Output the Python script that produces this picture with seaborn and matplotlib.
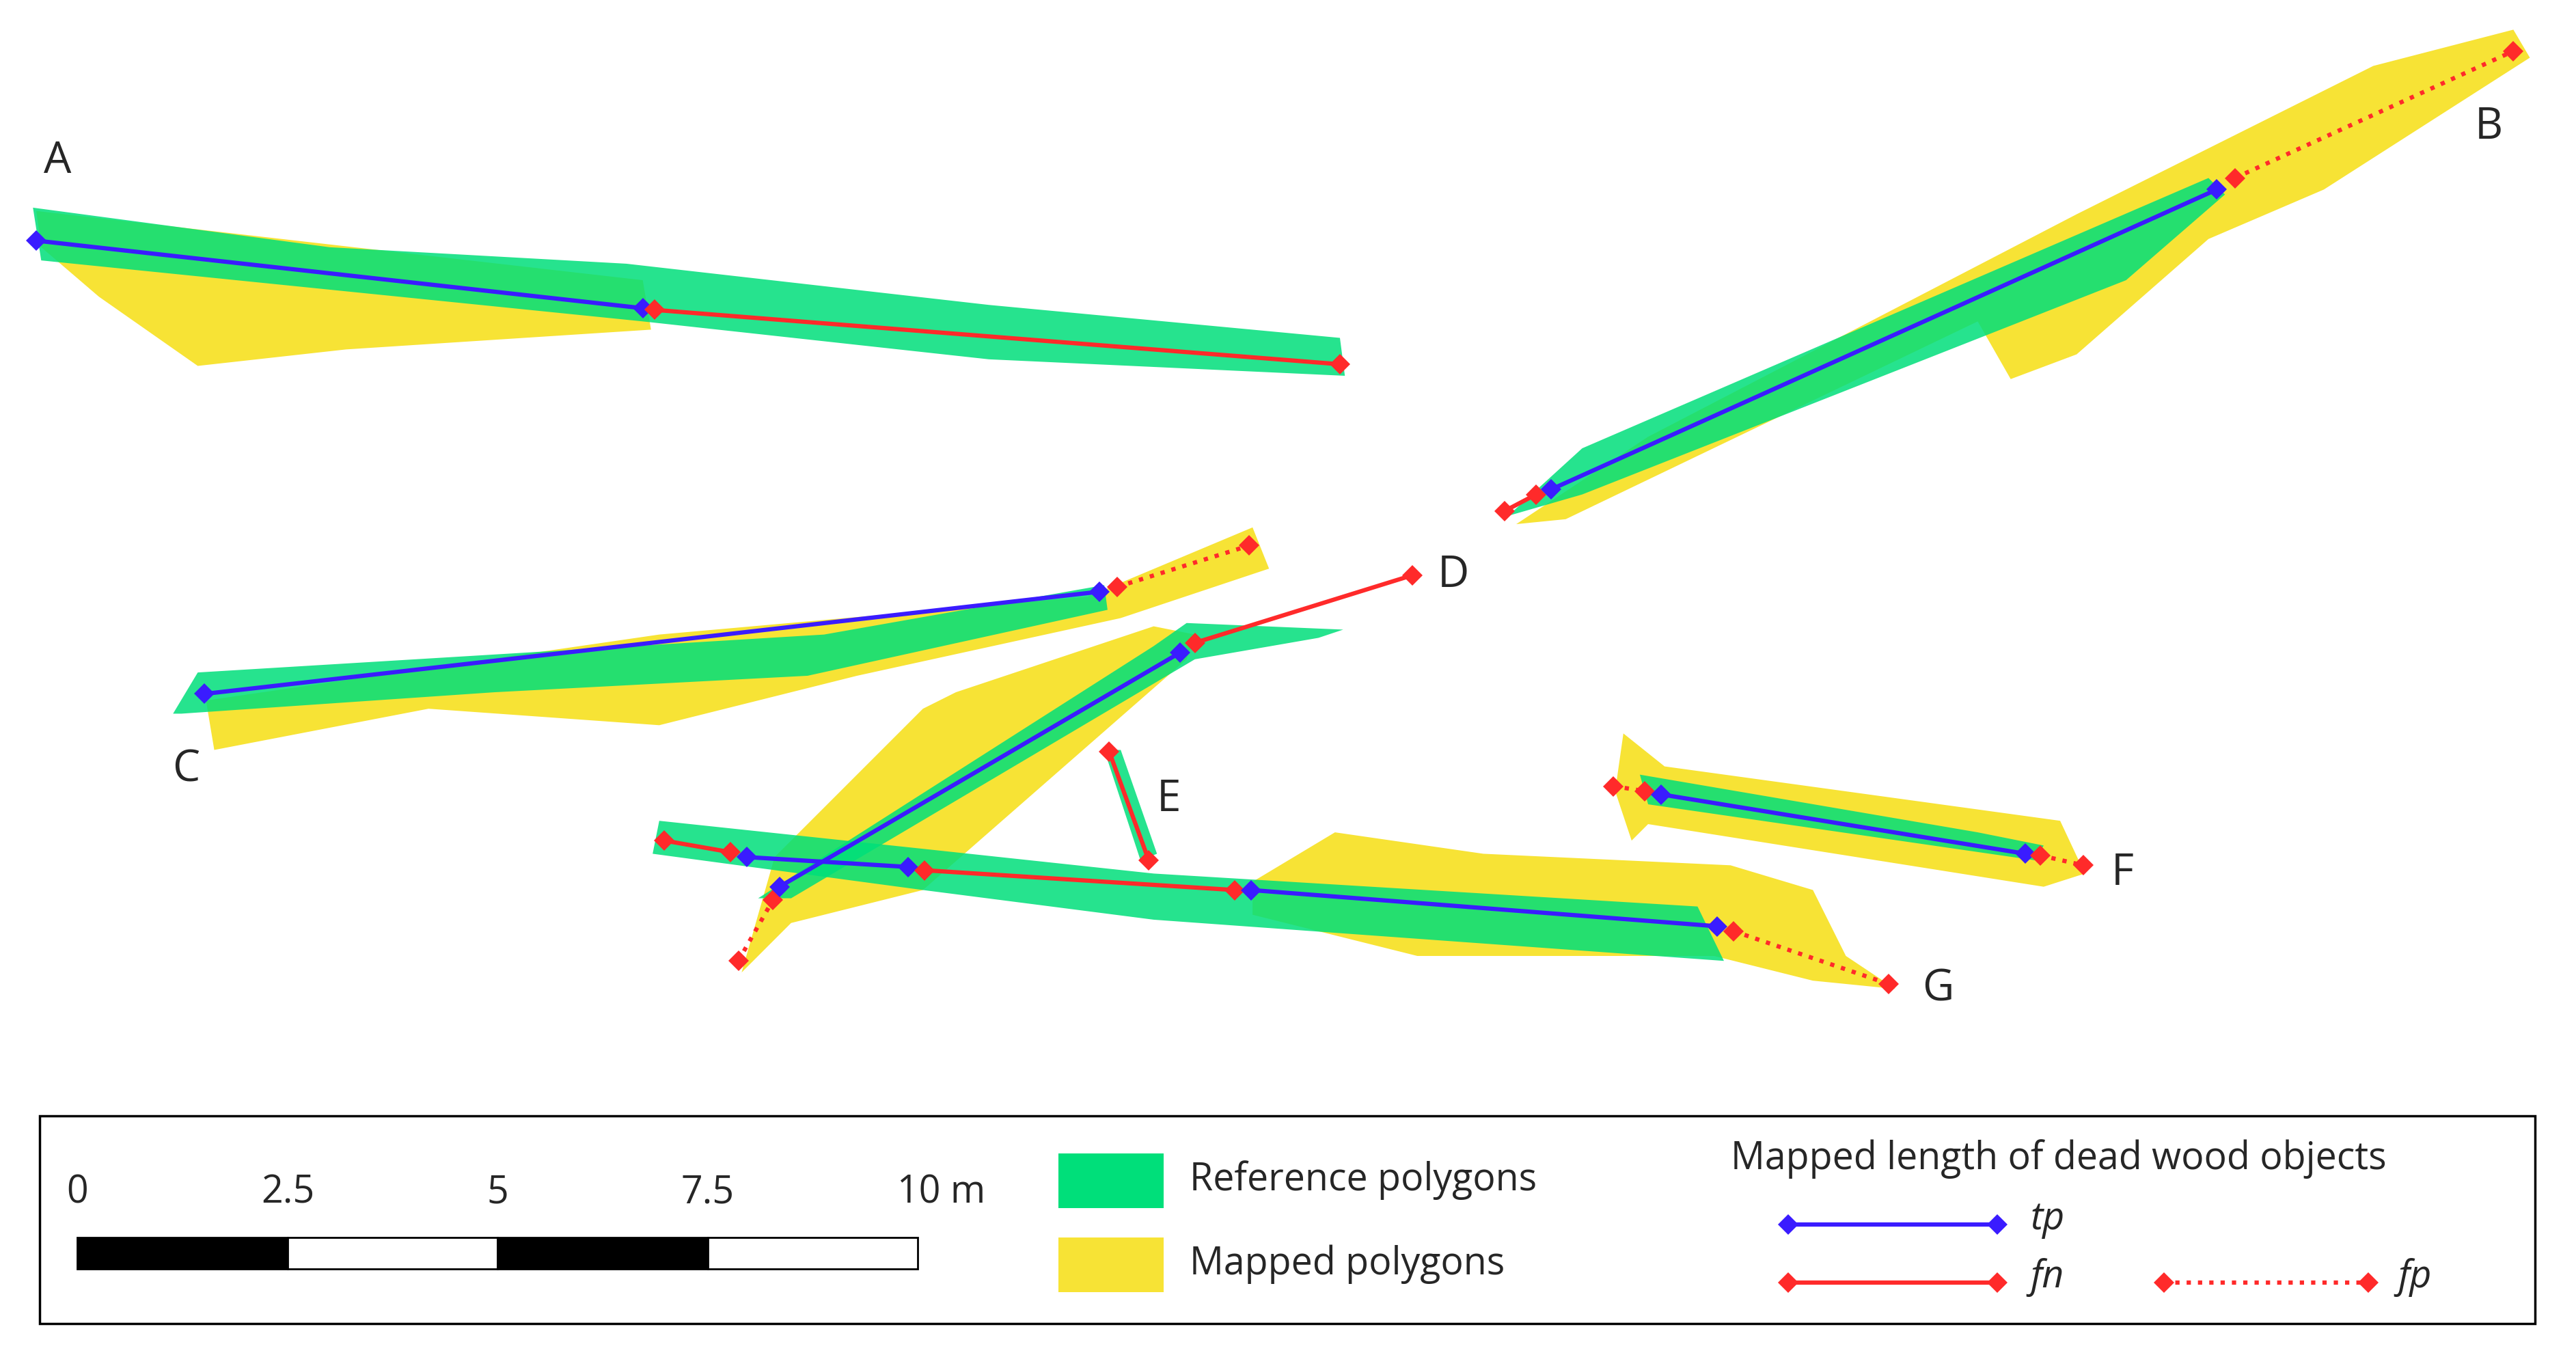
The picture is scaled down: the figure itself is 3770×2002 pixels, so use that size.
import matplotlib
matplotlib.use("Agg")
import matplotlib.pyplot as plt
import seaborn as sns
import pandas as pd
from matplotlib.patches import Polygon, Rectangle

sns.set_theme(style="white")
plt.rcParams['font.family'] = ['Open Sans', 'DejaVu Sans']

# ---- data (map coordinates, display units) ----
seg_names = ["A1","A2","B1","B2","B3","C1","C2","D0","D1","D2","E1",
             "F1","F2","F3","G1","G2","G3","G4","G5"]
seg_kind = ["tp","fn","fn","tp","fp","tp","fp","fp","tp","fn","fn",
            "fp","tp","fp","fn","tp","fn","tp","fp"]
seg_x0 = [22,397,913,941,1356,124,678,448,473,725,673,979,1008,1238,403,453,561,759,1052]
seg_y0 = [146,188,310,297,108,421,356,583,538,390,456,477,482,519,510,520,528,540,565]
seg_x1 = [390,813,932,1345,1525,667,758,469,716,857,697,998,1229,1264,443,551,749,1042,1146]
seg_y1 = [187,221,300,115,31,359,331,546,396,349,522,480,518,525,517,526,540,562,597]

green_polys = [
    [(20,126),(200,150),(380,160),(600,185),(813,205),(816,228),(600,218),(390,195),(25,158)],
    [(915,313),(960,272),(1340,108),(1350,118),(1290,170),(960,300)],
    [(105,433),(120,408),(500,385),(670,355),(672,370),(490,410),(300,420),(110,433)],
    [(460,545),(700,392),(720,378),(815,382),(800,387),(725,400),(480,545)],
    [(670,455),(680,455),(702,518),(692,522)],
    [(995,470),(1200,505),(1240,513),(1235,522),(1000,488)],
    [(396,518),(400,498),(560,515),(700,530),(1030,550),(1046,583),(700,558),(560,540)],
]
yellow_polys = [
    [(22,128),(390,170),(395,200),(210,212),(120,222),(60,180),(25,150)],
    [(920,318),(1000,265),(1260,130),(1440,40),(1525,18),(1535,35),(1410,115),(1340,145),
     (1260,215),(1220,230),(1200,195),(950,315)],
    [(125,425),(400,385),(660,362),(760,320),(770,345),(680,375),(520,410),(400,440),(260,430),(130,455)],
    [(450,590),(470,520),(560,430),(580,420),(700,380),(725,385),(720,400),(560,540),(480,560)],
    [(985,445),(1010,465),(1250,498),(1265,530),(1240,538),(1000,500),(990,510),(980,480)],
    [(760,535),(810,505),(900,518),(1050,525),(1100,540),(1120,580),(1150,600),(1100,595),
     (1040,580),(860,580),(760,555)],
]
obj_labels = ["A","B","C","D","E","F","G"]
obj_lx = [35,1510,113,882,709,1288,1176]
obj_ly = [98,77,467,349,485,530,600]
scale_ticks = ["0","2.5","5","7.5","10 m"]

BLUE = "#3a1cff"; RED = "#ff2a2a"; GREEN = "#00df7a"; YELLOW = "#f7e335"

fig = plt.figure(figsize=(37.7, 20.02), dpi=100)
ax = fig.add_axes([0, 0, 1, 1])
ax.set_xlim(0, 1563); ax.set_ylim(830, 0); ax.axis("off")

for p in yellow_polys:
    ax.add_patch(Polygon(p, closed=True, fc=YELLOW, ec="none", zorder=1))
for p in green_polys:
    ax.add_patch(Polygon(p, closed=True, fc=GREEN, ec="none", alpha=0.85, zorder=2))

rows = []
for n, k, x0, y0, x1, y1 in zip(seg_names, seg_kind, seg_x0, seg_y0, seg_x1, seg_y1):
    rows += [dict(seg=n, kind=k, x=x0, y=y0, o=0), dict(seg=n, kind=k, x=x1, y=y1, o=1)]
df = pd.DataFrame(rows)
styles = {"tp": (BLUE, "-"), "fn": (RED, "-"), "fp": (RED, ":")}
for n, g in df.groupby("seg"):
    c, ls = styles[g["kind"].iloc[0]]
    sns.lineplot(data=g, x="x", y="y", sort=False, ax=ax, color=c, linestyle=ls,
                 lw=4.5, marker="D", markersize=15, markeredgewidth=0, zorder=3)

for t, x, y in zip(obj_labels, obj_lx, obj_ly):
    ax.text(x, y, t, fontsize=46, ha="center", va="center", zorder=4)

# legend box
ax.add_patch(Rectangle((24, 677), 1514, 126, fc="white", ec="black", lw=2.5, zorder=5))
for i, t in enumerate(scale_ticks):
    x = 47 + i * 127.5
    ax.text(x + (14 if i == 4 else 0), 724, t, fontsize=40, ha="center", va="center", zorder=6)
for i in range(4):
    ax.add_patch(Rectangle((47 + i * 127.5, 751), 127.5, 19,
                           fc="black" if i % 2 == 0 else "white", ec="black", lw=2, zorder=6))
ax.add_patch(Rectangle((642, 700), 64, 33, fc=GREEN, ec="none", zorder=6))
ax.add_patch(Rectangle((642, 751), 64, 33, fc=YELLOW, ec="none", zorder=6))
ax.text(722, 716, "Reference polygons", fontsize=40, va="center", zorder=6)
ax.text(722, 767, "Mapped polygons", fontsize=40, va="center", zorder=6)
ax.text(1050, 703, "Mapped length of dead wood objects", fontsize=40, va="center", zorder=6)
for (x0, x1, y, k, lx) in [(1085, 1212, 743, "tp", 1232), (1085, 1212, 778, "fn", 1232),
                           (1313, 1437, 778, "fp", 1455)]:
    c, ls = styles[k]
    ax.plot([x0, x1], [y, y], color=c, ls=ls, lw=4.5, marker="D", markersize=15,
            markeredgewidth=0, zorder=7)
    ax.text(lx, y - 3, k, fontsize=40, style="italic", va="center", zorder=7)

fig.savefig("out.png", dpi=100, facecolor="white")
